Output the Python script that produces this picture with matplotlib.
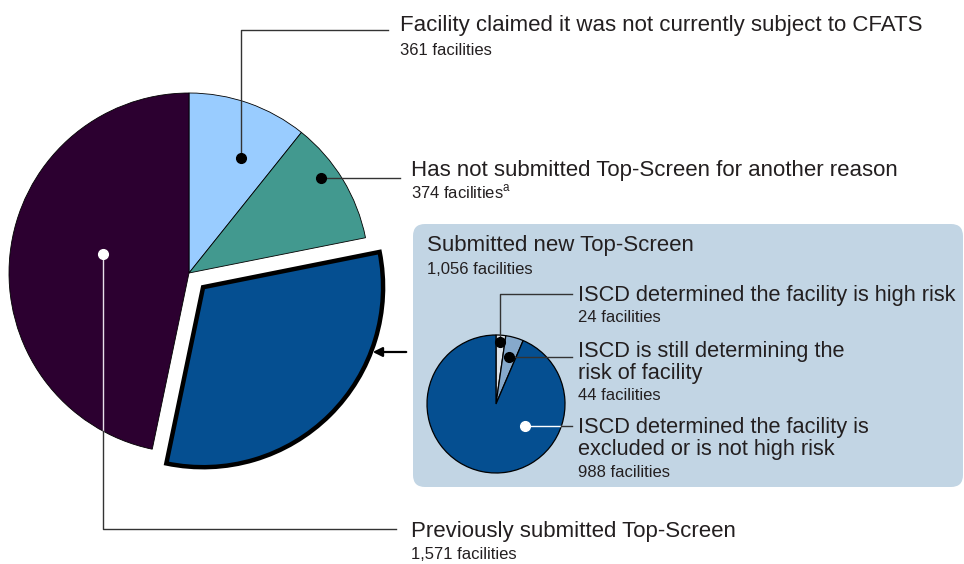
import matplotlib
matplotlib.use('Agg')
import matplotlib.pyplot as plt
import numpy as np
from matplotlib.patches import FancyBboxPatch

plt.rcParams['font.family'] = ['Liberation Sans', 'DejaVu Sans']
plt.rcParams['mathtext.fontset'] = 'custom'
plt.rcParams['mathtext.rm'] = 'Liberation Sans'

W, H = 964, 564

# outer pie: all facilities
outer_labels = ['Facility claimed it was not currently subject to CFATS',
                'Has not submitted Top-Screen for another reason',
                'Submitted new Top-Screen',
                'Previously submitted Top-Screen']
outer_counts = [361, 374, 1056, 1571]
outer_notes = ['', '$^{\\mathrm{a}}$', '', '']
outer_colors = ['#99CCFF', '#42998F', '#054F91', '#2C0030']

# inner pie: breakdown of the new Top-Screens
inner_labels = ['ISCD determined the facility is high risk',
                'ISCD is still determining the\nrisk of facility',
                'ISCD determined the facility is\nexcluded or is not high risk']
inner_counts = [24, 44, 988]
inner_colors = ['#DCE3EA', '#86A9CB', '#054F91']

TXT = '#231F20'
LINE = '#333333'


def px(x, y):
    # reference pixel coords (y down) -> data coords (y up)
    return x, H - y


def anchor(w, frac, t=0.5):
    a = np.deg2rad(w.theta1 + t * (w.theta2 - w.theta1))
    cx, cy = w.center
    return cx + frac * w.r * np.cos(a), cy + frac * w.r * np.sin(a)


def fmt(n):
    return f'{n:,} facilities'


fig = plt.figure(figsize=(W / 100, H / 100), dpi=100)
ax = fig.add_axes([0, 0, 1, 1])

# big pie
R = 180
big_c = px(189, 273)
wedges, _ = ax.pie(outer_counts, colors=outer_colors, startangle=90, counterclock=False,
                   center=big_c, radius=R, explode=[0, 0, 20, 0],
                   wedgeprops=dict(edgecolor='black', linewidth=0.6))
wedges[2].set_linewidth(3.2)
wedges[2].set_joinstyle('miter')

# panel for the new Top-Screens
panel = FancyBboxPatch(px(413, 487), 550, 263, boxstyle='round,pad=0,rounding_size=12',
                       fc='#C2D5E4', ec='none', zorder=0.5)
ax.add_patch(panel)

r = 69
small_c = px(496, 404)
swedges, _ = ax.pie(inner_counts, colors=inner_colors, startangle=90, counterclock=False,
                    center=small_c, radius=r,
                    wedgeprops=dict(edgecolor='black', linewidth=0.9))
for w in swedges:
    w.set_zorder(2)

# leader lines and dots, big pie
lw = 1.0
x0, y0 = anchor(wedges[0], 0.7, 0.37)
ax.plot([x0, x0, 388], [y0, H - 30, H - 30], color=LINE, lw=lw, zorder=3)
ax.plot(x0, y0, 'o', color='black', ms=7, zorder=4)

x1, y1 = anchor(wedges[1], 0.9, 0.61)
ax.plot([x1, 400], [y1, y1], color=LINE, lw=lw, zorder=3)
ax.plot(x1, y1, 'o', color='black', ms=7, zorder=4)

x3, y3 = anchor(wedges[3], 0.49, 0.46)
y_edge = big_c[1] - np.sqrt(R ** 2 - (x3 - big_c[0]) ** 2)
ax.plot([x3, x3], [y3, y_edge], color='#E8E0EA', lw=lw, zorder=3)
ax.plot([x3, x3, 396], [y_edge, H - 529, H - 529], color=LINE, lw=lw, zorder=3)
ax.plot(x3, y3, 'o', color='white', ms=7, zorder=4)

# leader lines and dots, small pie
sx0, sy0 = anchor(swedges[0], 0.9)
ax.plot([sx0, sx0, 572], [sy0, H - 294, H - 294], color=LINE, lw=lw, zorder=3)
ax.plot(sx0, sy0, 'o', color='black', ms=7, zorder=4)

sx1, sy1 = anchor(swedges[1], 0.7)
ax.plot([sx1, 572], [sy1, sy1], color=LINE, lw=lw, zorder=3)
ax.plot(sx1, sy1, 'o', color='black', ms=7, zorder=4)

sx2, sy2 = anchor(swedges[2], 0.53, 0.69)
x_edge = small_c[0] + np.sqrt(r ** 2 - (sy2 - small_c[1]) ** 2)
ax.plot([sx2, x_edge], [sy2, sy2], color='white', lw=lw, zorder=3)
ax.plot([x_edge, 572], [sy2, sy2], color=LINE, lw=lw, zorder=3)
ax.plot(sx2, sy2, 'o', color='white', ms=7, zorder=4)

# arrow from the panel to the exploded slice
ax.annotate('', xy=px(370, 352), xytext=px(409, 352),
            arrowprops=dict(arrowstyle='-|>', color='black', lw=1.6, mutation_scale=14))

# labels
big_fs, inner_fs, small_fs = 16, 15.7, 12
line_step = 22
label_pos = [(400, 31, 55), (411, 176, 198), (427, 251, 274), (411, 537, 559)]
for lab, n, note, (x, yb, ys) in zip(outer_labels, outer_counts, outer_notes, label_pos):
    ax.text(*px(x, yb), lab, fontsize=big_fs, color=TXT, va='baseline')
    ax.text(*px(x, ys), fmt(n) + note, fontsize=small_fs, color=TXT, va='baseline')

inner_pos = [(578, 301, 322), (578, 357, 400), (578, 433, 477)]
for lab, n, (x, yb, ys) in zip(inner_labels, inner_counts, inner_pos):
    for i, part in enumerate(lab.split('\n')):
        ax.text(*px(x, yb + i * line_step), part, fontsize=inner_fs, color=TXT, va='baseline')
    ax.text(*px(x, ys), fmt(n), fontsize=small_fs, color=TXT, va='baseline')

ax.set_xlim(0, W)
ax.set_ylim(0, H)
ax.set_aspect('equal')
ax.axis('off')

fig.savefig('out.png', dpi=100)
